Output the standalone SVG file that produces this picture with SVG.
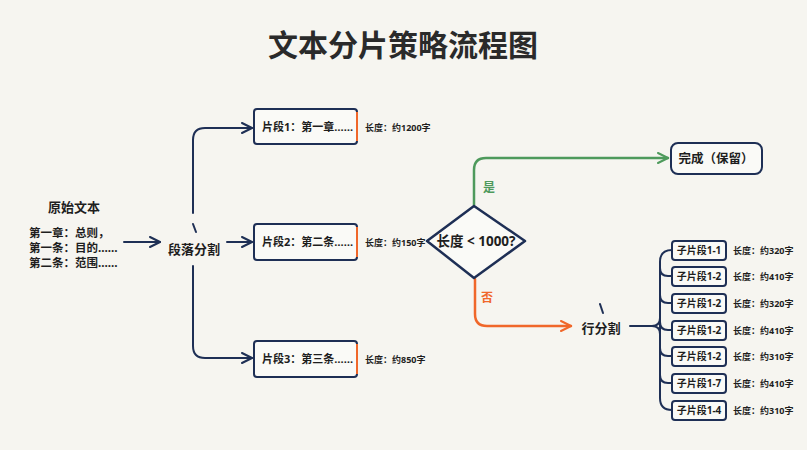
<svg xmlns="http://www.w3.org/2000/svg" width="807" height="450" viewBox="0 0 807 450">
<defs>
<marker id="ahn" viewBox="0 0 12 12" refX="11" refY="6" markerWidth="12" markerHeight="12" orient="auto" markerUnits="userSpaceOnUse">
<path d="M1,1 L11,6 L1,11" fill="none" stroke="#1e2f55" stroke-width="2" stroke-linecap="round" stroke-linejoin="round"/>
</marker>
<marker id="ahg" viewBox="0 0 12 12" refX="11" refY="6" markerWidth="12" markerHeight="12" orient="auto" markerUnits="userSpaceOnUse">
<path d="M1,1 L11,6 L1,11" fill="none" stroke="#4e9a5c" stroke-width="2" stroke-linecap="round" stroke-linejoin="round"/>
</marker>
<marker id="aho" viewBox="0 0 12 12" refX="11" refY="6" markerWidth="12" markerHeight="12" orient="auto" markerUnits="userSpaceOnUse">
<path d="M1,1 L11,6 L1,11" fill="none" stroke="#f0672a" stroke-width="2" stroke-linecap="round" stroke-linejoin="round"/>
</marker>
</defs>
<style>
text{font-family:"Noto Sans","Noto Sans CJK SC",sans-serif;fill:#1e1e1e}
.t{font-size:30px;font-weight:700;fill:#2a2a2a}
.h{font-size:13px;font-weight:700}
.s{font-size:11.5px;font-weight:700}
.b{font-size:11px;font-weight:700}
.l{font-size:9px;font-weight:700}
.c{font-size:10px;font-weight:700}
.box{fill:#fafaf7;stroke:#1e2f55;stroke-width:2}
.ln{fill:none;stroke:#1e2f55;stroke-width:2;stroke-linecap:round}
.g{fill:none;stroke:#4e9a5c;stroke-width:2.5;stroke-linecap:round}
.o{fill:none;stroke:#f0672a;stroke-width:2.5;stroke-linecap:round}
</style>
<rect width="807" height="450" fill="#f6f5f0"/>
<text class="t" x="403" y="56" text-anchor="middle">文本分片策略流程图</text>

<g id="connectors">
<path class="ln" d="M124,242 L160,242" stroke-width="2.5" marker-end="url(#ahn)"/>
<path class="ln" d="M193,213 L193,140 Q193,128 205,128 L252,128" marker-end="url(#ahn)"/>
<path class="ln" d="M227,242 L252,242" marker-end="url(#ahn)"/>
<path class="ln" d="M193,266 L193,346 Q193,358 205,358 L252,358" marker-end="url(#ahn)"/>
<path class="g" d="M474,205 L474,170 Q474,158 486,158 L668,158" marker-end="url(#ahg)"/>
<path class="o" d="M475,279 L475,314 Q475,326 487,326 L571,326" marker-end="url(#aho)"/>
<path class="ln" d="M630,326 L652,326 Q660,326 660,318 M652,326 Q660,326 660,334"/>
<path class="ln" d="M672,250 Q660,250 660,262 L660,398 Q660,410 672,410"/>
<path class="ln" d="M660,268 Q660,276 668,276 L672,276"/>
<path class="ln" d="M660,295 Q660,303 668,303 L672,303"/>
<path class="ln" d="M660,322 Q660,330 668,330 L672,330"/>
<path class="ln" d="M660,348 Q660,356 668,356 L672,356"/>
<path class="ln" d="M660,375 Q660,383 668,383 L672,383"/>
<path class="ln" d="M193,224 L196,232" stroke-width="1.5"/>
<path class="ln" d="M600,304 L603,313" stroke-width="1.5"/>
</g>

<g id="source">
<text class="h" x="74" y="212" text-anchor="middle">原始文本</text>
<text class="s" x="29" y="237">第一章：总则，</text>
<text class="s" x="29" y="252">第一条：目的……</text>
<text class="s" x="29" y="267">第二条：范围……</text>
</g>

<g id="split">
<text class="h" x="194" y="254" text-anchor="middle">段落分割</text>
</g>

<g id="seg1">
<rect class="box" x="254" y="109" width="103" height="35" rx="3"/>
<line x1="357" y1="112" x2="357" y2="141" stroke="#f0672a" stroke-width="2"/>
<text class="b" x="262" y="131">片段1：第一章……</text>
<text class="l" x="365" y="131">长度：约1200字</text>
</g>
<g id="seg2">
<rect class="box" x="254" y="224" width="103" height="36" rx="3"/>
<line x1="357" y1="227" x2="357" y2="257" stroke="#f0672a" stroke-width="2"/>
<text class="b" x="262" y="246">片段2：第二条……</text>
<text class="l" x="365" y="246">长度：约150字</text>
</g>
<g id="seg3">
<rect class="box" x="254" y="341" width="103" height="36" rx="3"/>
<line x1="357" y1="344" x2="357" y2="374" stroke="#f0672a" stroke-width="2"/>
<text class="b" x="262" y="363">片段3：第三条……</text>
<text class="l" x="365" y="363">长度：约850字</text>
</g>

<g id="decision">
<path d="M474,206 L525,241 L474,278 L427,241 Z" fill="#fafaf7" stroke="#1e2f55" stroke-width="2.5" stroke-linejoin="round"/>
<text x="476" y="246" text-anchor="middle" font-size="13.5" font-weight="700">长度 &lt; 1000?</text>
<text x="489" y="192" text-anchor="middle" font-size="12" font-weight="700" style="fill:#4e9a5c">是</text>
<text x="487" y="302" text-anchor="middle" font-size="12" font-weight="700" style="fill:#f0672a">否</text>
</g>

<g id="done">
<rect class="box" x="671" y="143" width="91" height="31" rx="7" stroke-width="2.5"/>
<text x="716" y="163" text-anchor="middle" font-size="12.5" font-weight="700">完成（保留）</text>
</g>

<g id="linesplit">
<text class="h" x="601" y="333" text-anchor="middle">行分割</text>
</g>

<g id="c1"><rect class="box" x="672" y="241" width="54" height="19" rx="3"/><text class="c" x="699" y="254" text-anchor="middle">子片段1-1</text><text class="l" x="733" y="254">长度：约320字</text></g>
<g id="c2"><rect class="box" x="672" y="267" width="54" height="19" rx="3"/><text class="c" x="699" y="280" text-anchor="middle">子片段1-2</text><text class="l" x="733" y="280">长度：约410字</text></g>
<g id="c3"><rect class="box" x="672" y="294" width="54" height="19" rx="3"/><text class="c" x="699" y="307" text-anchor="middle">子片段1-2</text><text class="l" x="733" y="307">长度：约320字</text></g>
<g id="c4"><rect class="box" x="672" y="321" width="54" height="19" rx="3"/><text class="c" x="699" y="334" text-anchor="middle">子片段1-2</text><text class="l" x="733" y="334">长度：约410字</text></g>
<g id="c5"><rect class="box" x="672" y="347" width="54" height="19" rx="3"/><text class="c" x="699" y="360" text-anchor="middle">子片段1-2</text><text class="l" x="733" y="360">长度：约310字</text></g>
<g id="c6"><rect class="box" x="672" y="374" width="54" height="19" rx="3"/><text class="c" x="699" y="387" text-anchor="middle">子片段1-7</text><text class="l" x="733" y="387">长度：约410字</text></g>
<g id="c7"><rect class="box" x="672" y="401" width="54" height="19" rx="3"/><text class="c" x="699" y="414" text-anchor="middle">子片段1-4</text><text class="l" x="733" y="414">长度：约310字</text></g>
</svg>
